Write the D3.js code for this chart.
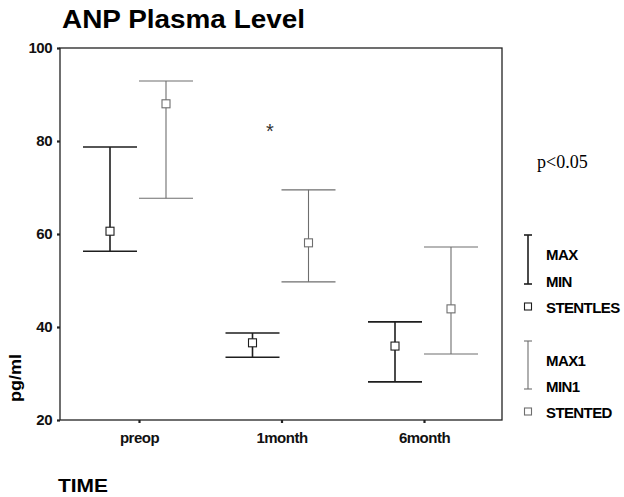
<!DOCTYPE html>
<html>
<head>
<meta charset="utf-8">
<script src="https://cdn.jsdelivr.net/npm/d3@7"></script>
<style>
  body { margin: 0; background: #fff; }
  text { font-family: "Liberation Sans", Arial, sans-serif; }
</style>
</head>
<body>
<script>
// data
const times = ['preop', '1month', '6month']
const stentlessMax = [78.7, 38.7, 41.1]
const stentlessMin = [56.3, 33.5, 28.2]
const stentlessMean = [60.6, 36.6, 35.9]
const stentedMax = [92.9, 69.5, 57.2]
const stentedMin = [67.7, 49.7, 34.2]
const stentedMean = [88.0, 58.1, 43.9]
const yTicks = [20, 40, 60, 80, 100]

const W = 624, H = 497
const plotL = 60, plotT = 48, plotR = 502, plotB = 420

const svg = d3.select('body').append('svg')
    .attr('width', W).attr('height', H)
    .attr('xmlns', 'http://www.w3.org/2000/svg')

const x = d3.scalePoint().domain(times).range([139, 424])
const y = d3.scaleLinear().domain([20, 100]).range([plotB, plotT])

// title
svg.append('text')
    .attr('x', 62).attr('y', 28)
    .attr('font-size', 25).attr('font-weight', 'bold')
    .attr('textLength', 243).attr('lengthAdjust', 'spacingAndGlyphs')
    .text('ANP Plasma Level')

// frame
svg.append('rect')
    .attr('x', plotL).attr('y', plotT)
    .attr('width', plotR - plotL).attr('height', plotB - plotT)
    .attr('fill', 'none').attr('stroke', '#222').attr('stroke-width', 1.3)

// axes
const yAxis = svg.append('g')
    .attr('transform', `translate(${plotL},0)`)
    .call(d3.axisLeft(y).tickValues(yTicks).tickSize(3).tickPadding(5))
const xAxis = svg.append('g')
    .attr('transform', `translate(0,${plotB})`)
    .call(d3.axisBottom(x).tickSize(3).tickPadding(9))
for (const ax of [yAxis, xAxis]) {
    ax.select('.domain').remove()
    ax.selectAll('line').attr('stroke', '#222').attr('stroke-width', 2.2)
    ax.selectAll('text')
        .attr('font-size', 15).attr('font-weight', 'bold')
        .attr('letter-spacing', -0.5).attr('fill', '#111')
        .style('font-family', '"Liberation Sans", Arial, sans-serif')
}

svg.append('text')
    .attr('transform', 'translate(21,378) rotate(-90)')
    .attr('text-anchor', 'middle')
    .attr('font-size', 16).attr('font-weight', 'bold')
    .attr('textLength', 48).attr('lengthAdjust', 'spacingAndGlyphs')
    .text('pg/ml')

svg.append('text')
    .attr('x', 58).attr('y', 492)
    .attr('font-size', 19).attr('font-weight', 'bold')
    .attr('textLength', 50).attr('lengthAdjust', 'spacingAndGlyphs')
    .text('TIME')

// error bars
const series = [
    { max: stentlessMax, min: stentlessMin, mean: stentlessMean, dx: -29, color: '#1e1e1e', w: 1.6 },
    { max: stentedMax, min: stentedMin, mean: stentedMean, dx: 27, color: '#6e6e6e', w: 1.1 }
]
const cap = 27
series.forEach(s => {
    const g = svg.append('g').attr('stroke', s.color).attr('stroke-width', s.w).attr('fill', 'none')
    times.forEach((t, i) => {
        const cx = x(t) + s.dx
        g.append('line').attr('x1', cx).attr('x2', cx).attr('y1', y(s.max[i])).attr('y2', y(s.min[i]))
        g.append('line').attr('x1', cx - cap).attr('x2', cx + cap).attr('y1', y(s.max[i])).attr('y2', y(s.max[i]))
        g.append('line').attr('x1', cx - cap).attr('x2', cx + cap).attr('y1', y(s.min[i])).attr('y2', y(s.min[i]))
        g.append('rect').attr('x', cx - 4).attr('y', y(s.mean[i]) - 4)
            .attr('width', 8).attr('height', 8).attr('fill', '#fff').attr('stroke-width', 1.1)
    })
})

// significance marker
svg.append('text')
    .attr('x', 270).attr('y', 138)
    .attr('text-anchor', 'middle').attr('font-size', 20).attr('fill', '#333')
    .text('*')

svg.append('text')
    .attr('x', 537).attr('y', 168)
    .attr('font-size', 18).style('font-family', '"Liberation Serif", "Times New Roman", serif')
    .text('p<0.05')

// legend
const legend = [
    { color: '#1e1e1e', w: 1.6, top: 235, bot: 284, hi: 'MAX', lo: 'MIN', sq: 307, name: 'STENTLES' },
    { color: '#6e6e6e', w: 1.1, top: 341, bot: 389, hi: 'MAX1', lo: 'MIN1', sq: 412, name: 'STENTED' }
]
const lx = 528, tx = 546
legend.forEach(l => {
    const g = svg.append('g').attr('stroke', l.color).attr('stroke-width', l.w).attr('fill', 'none')
    g.append('line').attr('x1', lx).attr('x2', lx).attr('y1', l.top).attr('y2', l.bot)
    g.append('line').attr('x1', lx - 4).attr('x2', lx + 4).attr('y1', l.top).attr('y2', l.top)
    g.append('line').attr('x1', lx - 4).attr('x2', lx + 4).attr('y1', l.bot).attr('y2', l.bot)
    g.append('rect').attr('x', lx - 3.5).attr('y', l.sq - 4).attr('width', 7).attr('height', 7).attr('stroke-width', 1.1)
    const labels = [[l.hi, (l.top + l.bot) / 2 - 5], [l.lo, l.bot - 3], [l.name, l.sq]]
    labels.forEach(([txt, yy]) => {
        svg.append('text').attr('x', tx).attr('y', yy + 5.5)
            .attr('font-size', 15).attr('font-weight', 'bold').attr('letter-spacing', -0.6)
            .text(txt)
    })
})
</script>
</body>
</html>
